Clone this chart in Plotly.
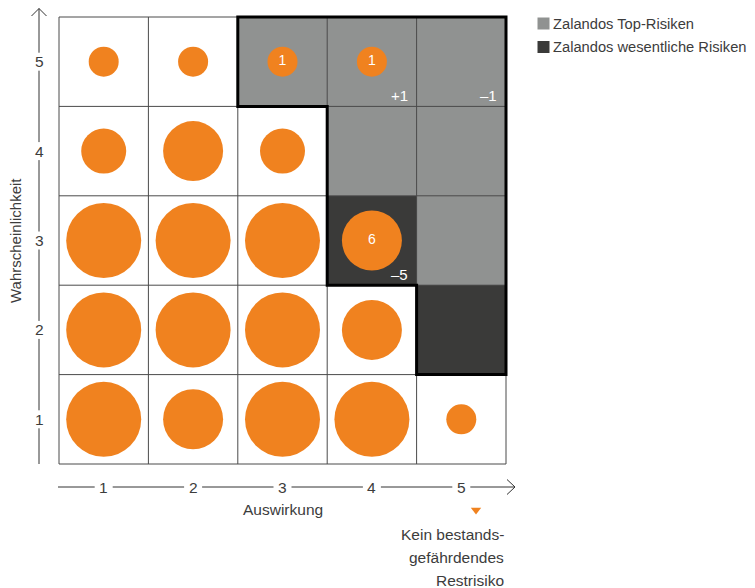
import plotly.graph_objects as go

# Risikomatrix: Auswirkung (x) gegen Wahrscheinlichkeit (y)
impact = [1, 2, 3, 4, 5]
likelihood = [5, 4, 3, 2, 1]  # Zeilen von oben nach unten

# Größenklasse der Kreise je Zelle (0 = kein Kreis)
bubble_class = [
    [1, 1, 1, 1, 0],
    [2, 3, 2, 0, 0],
    [4, 4, 4, 3, 0],
    [4, 4, 4, 3, 0],
    [4, 3, 4, 4, 1],
]

# 0 = ohne, 1 = Top-Risiken, 2 = wesentliche Risiken
zone = [
    [0, 0, 1, 1, 1],
    [0, 0, 0, 1, 1],
    [0, 0, 0, 2, 1],
    [0, 0, 0, 0, 2],
    [0, 0, 0, 0, 0],
]

# Anzahl Risiken im Kreis und Veränderung zum Vorjahr, (Auswirkung, Wahrscheinlichkeit)
risk_counts = {(3, 5): '1', (4, 5): '1', (4, 3): '6'}
changes = {(4, 5): '+1', (5, 5): '\u20131', (4, 3): '\u20135'}

tick_labels = ['1', '2', '3', '4', '5']
legend_labels = ['Zalandos Top-Risiken', 'Zalandos wesentliche Risiken']
note_lines = ['Kein bestands-', 'gefährdendes', 'Restrisiko']

COLORS = {
    'orange': '#f0821f',
    'top': '#909291',
    'wesentlich': '#3a3a39',
    'text': '#3c3c3c',
    'grid': '#4a4a4a',
}
SIZE_PX = {1: 30, 2: 45, 3: 60, 4: 75}
FONT = 'Liberation Sans, Arial, sans-serif'

# die Seite hat 8px Rand, die Figur füllt den Rest des Fensters
PAGE_W, PAGE_H, PAD = 755, 588, 8
U = 89.4          # Pixel je Zelle
X0, Y0 = 59, 17   # linke obere Ecke des Rasters (Fensterpixel)


def px(x):
    return 0.5 + (x - X0) / U


def py(y):
    return 5.5 - (y - Y0) / U


fig = go.Figure()

# Zellen
fig.add_trace(go.Heatmap(
    x=impact, y=likelihood, z=zone,
    zmin=0, zmax=2, showscale=False, hoverinfo='skip',
    colorscale=[[0, 'white'], [0.33, 'white'],
                [0.33, COLORS['top']], [0.67, COLORS['top']],
                [0.67, COLORS['wesentlich']], [1, COLORS['wesentlich']]],
))

# dünne Rasterlinien
edges = [b + 0.5 for b in range(0, 6)]
gx, gy = [], []
for b in edges:
    gx += [b, b, None, edges[0], edges[-1], None]
    gy += [edges[0], edges[-1], None, b, b, None]
fig.add_trace(go.Scatter(x=gx, y=gy, mode='lines', hoverinfo='skip',
                         line=dict(color=COLORS['grid'], width=1)))

# dicke Umrandung der markierten Zone
shaded = set()
for r, yv in enumerate(likelihood):
    for c, xv in enumerate(impact):
        if zone[r][c] > 0:
            shaded.add((xv, yv))
segs = []
for (x, y) in shaded:
    if (x - 1, y) not in shaded:
        segs.append(((x - .5, y - .5), (x - .5, y + .5)))
    if (x + 1, y) not in shaded:
        segs.append(((x + .5, y - .5), (x + .5, y + .5)))
    if (x, y - 1) not in shaded:
        segs.append(((x - .5, y - .5), (x + .5, y - .5)))
    if (x, y + 1) not in shaded:
        segs.append(((x - .5, y + .5), (x + .5, y + .5)))
path = list(segs.pop(0))
while segs:
    for i, (a, b) in enumerate(segs):
        if a == path[-1]:
            path.append(b)
            break
        if b == path[-1]:
            path.append(a)
            break
    segs.pop(i)
fig.add_trace(go.Scatter(x=[p[0] for p in path], y=[p[1] for p in path],
                         mode='lines', hoverinfo='skip',
                         line=dict(color='black', width=3)))

# Kreise
bx, by, bs, bt = [], [], [], []
for r, yv in enumerate(likelihood):
    for c, xv in enumerate(impact):
        k = bubble_class[r][c]
        if k:
            bx.append(xv)
            by.append(yv)
            bs.append(SIZE_PX[k])
            bt.append(risk_counts.get((xv, yv), ''))
fig.add_trace(go.Scatter(
    x=bx, y=by, mode='markers+text', text=bt, textposition='middle center',
    textfont=dict(color='white', size=14, family=FONT),
    marker=dict(size=bs, color=COLORS['orange'], opacity=1, line=dict(width=0)),
    hoverinfo='skip',
))

# Veränderungen rechts unten in der Zelle
for (xv, yv), txt in changes.items():
    fig.add_annotation(x=xv + 0.5, y=yv - 0.5, text=txt, showarrow=False,
                       xanchor='right', yanchor='middle', xshift=-7, yshift=11,
                       font=dict(color='white', size=15, family=FONT))

# Achsen mit Pfeilen, Linie unterbrochen an den Beschriftungen
gap = 9 / U
ax_x, ax_y = [], []
start = 0.5
for t in range(1, 6):
    ax_x += [px(39), px(39), None]
    ax_y += [start, t - gap, None]
    start = t + gap
ax_x += [px(39), px(39), None, px(31.5), px(39), px(46.5), None]
ax_y += [start, py(8.5), None, py(16), py(8.5), py(16), None]
start = px(58)
for t in range(1, 6):
    ax_x += [start, t - gap, None]
    ax_y += [py(487), py(487), None]
    start = t + gap
ax_x += [start, px(515), None, px(507), px(515), px(507)]
ax_y += [py(487), py(487), None, py(479.5), py(487), py(494.5)]
fig.add_trace(go.Scatter(x=ax_x, y=ax_y, mode='lines', hoverinfo='skip',
                         line=dict(color='#333333', width=1)))

for i, lab in enumerate(tick_labels):
    fig.add_annotation(x=px(39), y=likelihood[::-1][i], text=lab, showarrow=False,
                       font=dict(color=COLORS['text'], size=15.5, family=FONT))
    fig.add_annotation(x=impact[i], y=py(487), text=lab, showarrow=False,
                       font=dict(color=COLORS['text'], size=15.5, family=FONT))

fig.add_annotation(x=3, y=py(509), text='Auswirkung', showarrow=False,
                   font=dict(color=COLORS['text'], size=15.5, family=FONT))
fig.add_annotation(x=px(15.5), y=3, text='Wahrscheinlichkeit', showarrow=False,
                   textangle=-90,
                   font=dict(color=COLORS['text'], size=15, family=FONT))

# Hinweis unter Auswirkung 5
fig.add_trace(go.Scatter(x=[px(476)], y=[py(510)], mode='markers', hoverinfo='skip',
                         marker=dict(symbol='triangle-down', size=9,
                                     color=COLORS['orange'])))
for i, line in enumerate(note_lines):
    fig.add_annotation(x=px(506), y=py(534 + i * 23), text=line, showarrow=False,
                       xanchor='right',
                       font=dict(color=COLORS['text'], size=15.5, family=FONT))

# Legende
fig.add_trace(go.Scatter(x=[px(543.5)] * 2, y=[py(23.5), py(47)], mode='markers',
                         hoverinfo='skip',
                         marker=dict(symbol='square', size=12, opacity=1,
                                     color=[COLORS['top'], COLORS['wesentlich']])))
for i, lab in enumerate(legend_labels):
    fig.add_annotation(x=px(551), y=py(23.5 + i * 23.5), text=lab, showarrow=False,
                       xanchor='left',
                       font=dict(color=COLORS['text'], size=14.7, family=FONT))

fig.update_layout(
    width=PAGE_W - PAD, height=PAGE_H - PAD,
    margin=dict(l=0, r=0, t=0, b=0),
    plot_bgcolor='white', paper_bgcolor='white',
    showlegend=False,
    xaxis=dict(range=[px(PAD), px(PAGE_W)], visible=False, fixedrange=True),
    yaxis=dict(range=[py(PAGE_H), py(PAD)], visible=False, fixedrange=True),
)

fig.write_html("out.html")
